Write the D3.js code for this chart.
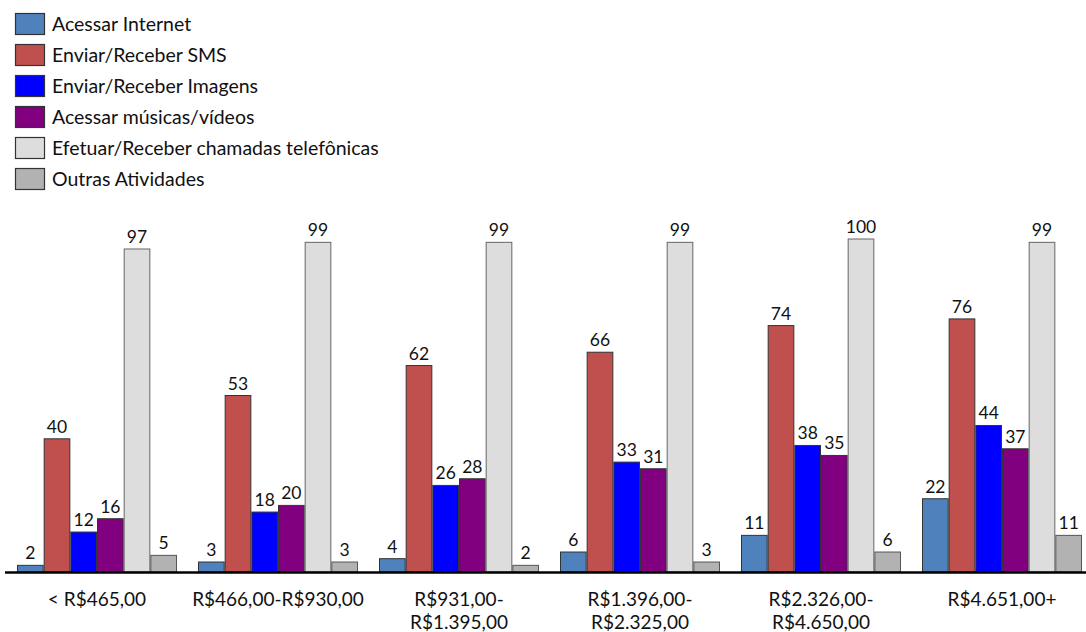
<!DOCTYPE html>
<html><head><meta charset="utf-8">
<script src="https://cdn.jsdelivr.net/npm/d3@7"></script>
<style>body{margin:0;background:#fff}svg{display:block}</style>
</head><body>
<script>
const categories = ["< R$465,00", "R$466,00-R$930,00", "R$931,00-\nR$1.395,00", "R$1.396,00-\nR$2.325,00", "R$2.326,00-\nR$4.650,00", "R$4.651,00+"];
const seriesNames = ["Acessar Internet", "Enviar/Receber SMS", "Enviar/Receber Imagens", "Acessar músicas/vídeos", "Efetuar/Receber chamadas telefônicas", "Outras Atividades"];
const internet = [2, 3, 4, 6, 11, 22];
const sms = [40, 53, 62, 66, 74, 76];
const imagens = [12, 18, 26, 33, 38, 44];
const musicas = [16, 20, 28, 31, 35, 37];
const chamadas = [97, 99, 99, 99, 100, 99];
const outras = [5, 3, 2, 3, 6, 11];
const colors = ["#4F81BD", "#C0504D", "#0000FF", "#800080", "#DDDDDD", "#B2B2B2"];
const strokes = ["#333", "#333", "#333", "#333", "#666", "#555"];

const seriesValues = [internet, sms, imagens, musicas, chamadas, outras];
const W = 1086, H = 632;
const font = "Lato, 'Open Sans', sans-serif";
const svg = d3.select("body").append("svg").attr("width", W).attr("height", H);

const x0 = d3.scaleBand().domain(d3.range(categories.length)).range([6.5, 1092.5]).paddingInner(0.116).paddingOuter(0.058);
const x1 = d3.scaleBand().domain(d3.range(seriesNames.length)).range([0, x0.bandwidth()]);
const y = d3.scaleLinear().domain([0, 100]).range([572, 239]);

const groups = svg.selectAll("g.grp").data(categories).join("g")
  .attr("transform", (d, i) => `translate(${x0(i)},0)`);

groups.each(function(c, ci) {
  const g = d3.select(this);
  seriesValues.forEach((vals, si) => {
    const v = vals[ci];
    g.append("rect")
      .attr("x", x1(si) + 0.5).attr("y", y(v))
      .attr("width", x1.bandwidth() - 1).attr("height", y(0) - y(v))
      .attr("fill", colors[si]).attr("stroke", strokes[si]).attr("stroke-width", 1);
    g.append("text")
      .attr("x", x1(si) + x1.bandwidth() / 2).attr("y", y(v) - 6)
      .attr("text-anchor", "middle").attr("font-family", font).attr("font-size", 17.5)
      .attr("fill", "#111").text(v);
  });
  const lines = c.split("\n");
  lines.forEach((ln, li) => {
    g.append("text")
      .attr("x", x0.bandwidth() / 2).attr("y", 606 + li * 23)
      .attr("text-anchor", "middle").attr("font-family", font).attr("font-size", 19)
      .attr("fill", "#111").text(ln);
  });
});

svg.append("line").attr("x1", 5).attr("x2", W).attr("y1", 572.5).attr("y2", 572.5)
  .attr("stroke", "#000").attr("stroke-width", 2.5);

const legend = svg.append("g");
seriesNames.forEach((n, i) => {
  const yy = 13 + i * 31;
  legend.append("rect").attr("x", 15.5).attr("y", yy + 0.5).attr("width", 29).attr("height", 21)
    .attr("fill", colors[i]).attr("stroke", "#333").attr("stroke-width", 1.2);
  legend.append("text").attr("x", 52).attr("y", yy + 18)
    .attr("font-family", font).attr("font-size", 19.5).attr("fill", "#111").text(n);
});
</script>
</body></html>
